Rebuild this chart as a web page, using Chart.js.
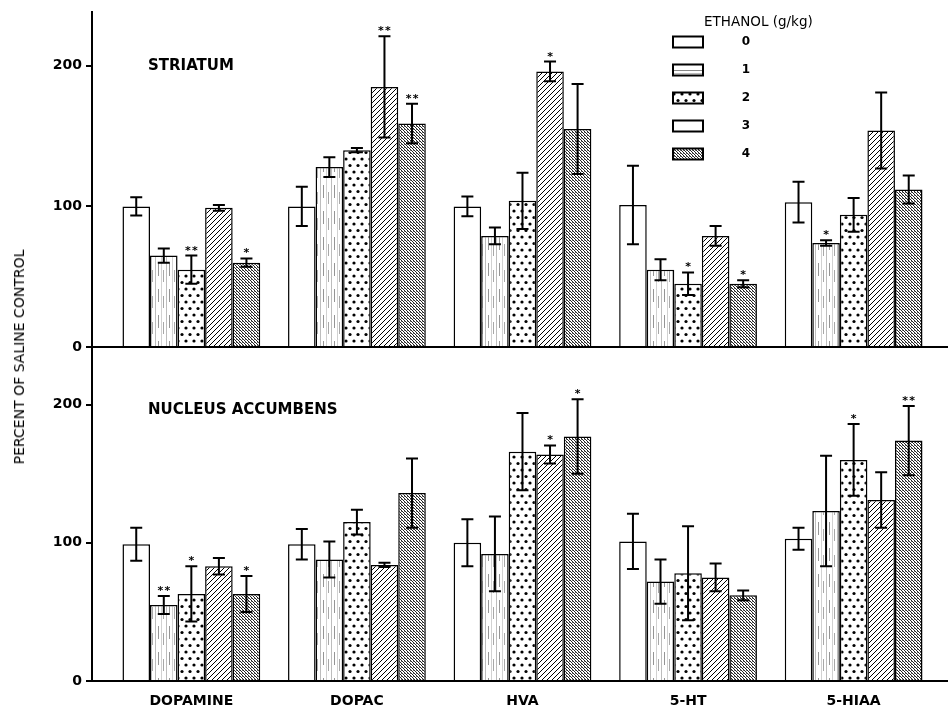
<!DOCTYPE html>
<html>
<head>
<meta charset="utf-8">
<script src="https://cdn.jsdelivr.net/npm/chart.js@4/dist/chart.umd.min.js"></script>
<style>
html, body { margin: 0; padding: 0; background: #fff; }
#wrap { position: relative; width: 948px; height: 713px; overflow: hidden; background: #fff; }
#c1 { position: absolute; left: 0; top: 0; }
#c2 { position: absolute; left: 0; top: 337px; }
#ytitle { position: absolute; left: 19px; top: 357px; transform: translate(-50%, -50%) rotate(-90deg);
  font: 14px "DejaVu Sans", sans-serif; color: #000; white-space: nowrap; }
</style>
</head>
<body>
<div id="wrap">
  <canvas id="c1" width="948" height="360"></canvas>
  <canvas id="c2" width="948" height="376"></canvas>
  <div id="ytitle">PERCENT OF SALINE CONTROL</div>
</div>
<script>
// ---------- DATA ----------
const categories = ['DOPAMINE', 'DOPAC', 'HVA', '5-HT', '5-HIAA'];
const doses = ['0', '1', '2', '3', '4'];
const legendTitle = 'ETHANOL (g/kg)';
const yTicks = [0, 100, 200];

// Striatum (mean % of saline control), one array per ethanol dose
const striatum0 = [100, 100, 100, 101, 103];
const striatum1 = [65, 128, 79, 55, 74];
const striatum2 = [55, 140, 104, 45, 94];
const striatum3 = [99, 185, 196, 79, 154];
const striatum4 = [60, 159, 155, 45, 112];
// Striatum error (SEM)
const striatumErr0 = [6.5, 14, 7, 28, 14.5];
const striatumErr1 = [5, 7, 6, 7.5, 2];
const striatumErr2 = [10, 1.5, 20, 8, 12];
const striatumErr3 = [2, 36, 7, 7, 27];
const striatumErr4 = [3, 14, 32, 2.5, 10];
// Striatum significance marks
const striatumSig0 = ['', '', '', '', ''];
const striatumSig1 = ['', '', '', '', '*'];
const striatumSig2 = ['**', '', '', '*', ''];
const striatumSig3 = ['', '**', '*', '', ''];
const striatumSig4 = ['*', '**', '', '*', ''];

// Nucleus accumbens
const accumbens0 = [99, 99, 100, 101, 103];
const accumbens1 = [55, 88, 92, 72, 123];
const accumbens2 = [63, 115, 166, 78, 160];
const accumbens3 = [83, 84, 164, 75, 131];
const accumbens4 = [63, 136, 177, 62, 174];
const accumbensErr0 = [12, 11, 17, 20, 8];
const accumbensErr1 = [6.5, 13, 27, 16, 40];
const accumbensErr2 = [20, 9, 28, 34, 26];
const accumbensErr3 = [6, 1.5, 6.5, 10, 20];
const accumbensErr4 = [13, 25, 27, 3.5, 25];
const accumbensSig0 = ['', '', '', '', ''];
const accumbensSig1 = ['**', '', '', '', ''];
const accumbensSig2 = ['*', '', '', '', '*'];
const accumbensSig3 = ['', '', '*', '', ''];
const accumbensSig4 = ['*', '', '*', '', '**'];

const panels = [
  { title: 'STRIATUM', yMax: 238,
    means: [striatum0, striatum1, striatum2, striatum3, striatum4],
    errs: [striatumErr0, striatumErr1, striatumErr2, striatumErr3, striatumErr4],
    sigs: [striatumSig0, striatumSig1, striatumSig2, striatumSig3, striatumSig4] },
  { title: 'NUCLEUS ACCUMBENS', yMax: 240,
    means: [accumbens0, accumbens1, accumbens2, accumbens3, accumbens4],
    errs: [accumbensErr0, accumbensErr1, accumbensErr2, accumbensErr3, accumbensErr4],
    sigs: [accumbensSig0, accumbensSig1, accumbensSig2, accumbensSig3, accumbensSig4] }
];

// ---------- PATTERNS ----------
function makePatterns(ctx) {
  function tile(w, h, draw) {
    const c = document.createElement('canvas');
    c.width = w; c.height = h;
    const g = c.getContext('2d');
    g.fillStyle = '#fff'; g.fillRect(0, 0, w, h);
    draw(g);
    return ctx.createPattern(c, 'repeat');
  }
  const p0 = '#ffffff';
  const p1 = tile(11, 26, g => {
    g.fillStyle = '#bdbdbd'; g.fillRect(1, 0, 1, 26);
    g.fillStyle = '#959595'; g.fillRect(4, 3, 1, 13);
    g.fillStyle = '#d2d2d2'; g.fillRect(7, 0, 1, 26);
    g.fillStyle = '#a8a8a8'; g.fillRect(9, 10, 1, 12);
  });
  const p2 = tile(8, 13, g => {
    g.fillStyle = '#000';
    g.beginPath(); g.arc(2, 3, 1.6, 0, Math.PI * 2); g.fill();
    g.beginPath(); g.arc(6, 9.5, 1.6, 0, Math.PI * 2); g.fill();
  });
  const p3 = tile(5, 5, g => {
    g.strokeStyle = '#000'; g.lineWidth = 1.0;
    g.beginPath();
    for (let k = -1; k <= 1; k++) { g.moveTo(k * 5, 5); g.lineTo(k * 5 + 5, 0); }
    g.stroke();
  });
  const p4 = tile(3, 3, g => {
    g.fillStyle = '#222';
    g.fillRect(0, 0, 1, 1); g.fillRect(1, 1, 1, 1); g.fillRect(2, 2, 1, 1);
    g.fillStyle = '#777';
    g.fillRect(2, 0, 1, 1);
  });
  const p1legend = tile(6, 11, g => {
    g.fillStyle = '#888'; g.fillRect(0, 4, 6, 1);
    g.fillStyle = '#bbb'; g.fillRect(0, 7, 6, 1);
  });
  return { bars: [p0, p1, p2, p3, p4], legend: [p0, p1legend, p2, '#ffffff', p4] };
}

// ---------- PLUGINS ----------
function extrasPlugin(panel, withLegend, pats) {
  return {
    id: 'extras',
    afterDatasetsDraw(chart) {
      const ctx = chart.ctx;
      const ys = chart.scales.y;
      ctx.save();
      chart.data.datasets.forEach((ds, di) => {
        const meta = chart.getDatasetMeta(di);
        meta.data.forEach((bar, i) => {
          const v = panel.means[di][i];
          const e = panel.errs[di][i];
          const x = bar.x;
          const yt = ys.getPixelForValue(v + e);
          const yb = ys.getPixelForValue(v - e);
          ctx.strokeStyle = '#000';
          ctx.lineWidth = 2;
          ctx.beginPath();
          ctx.moveTo(x, yt); ctx.lineTo(x, yb);
          ctx.moveTo(x - 6, yt); ctx.lineTo(x + 6, yt);
          ctx.moveTo(x - 6, yb); ctx.lineTo(x + 6, yb);
          ctx.stroke();
          const s = panel.sigs[di][i];
          if (s) {
            ctx.fillStyle = '#000';
            ctx.font = 'bold 11px "DejaVu Sans"';
            ctx.textAlign = 'center';
            ctx.textBaseline = 'alphabetic';
            const n = s.length;
            for (let k = 0; k < n; k++) {
              const dx = (k - (n - 1) / 2) * 7;
              ctx.fillText('*', x + dx, yt - 2);
            }
          }
        });
      });
      // panel title
      const area = chart.chartArea;
      ctx.fillStyle = '#000';
      ctx.font = 'bold 15px "DejaVu Sans"';
      ctx.textAlign = 'left';
      ctx.textBaseline = 'middle';
      const ty = withLegend ? area.top + 54 : area.top + 61;
      ctx.fillText(panel.title, area.left + 56, ty);

      if (withLegend) {
        ctx.font = '13.5px "DejaVu Sans"';
        ctx.textAlign = 'left';
        ctx.textBaseline = 'middle';
        ctx.fillText(legendTitle, 704, 22);
        doses.forEach((d, k) => {
          const cy = 42 + k * 28;
          ctx.fillStyle = pats.legend[k];
          ctx.fillRect(673, cy - 5.5, 30, 11);
          ctx.strokeStyle = '#000'; ctx.lineWidth = 2;
          ctx.strokeRect(673, cy - 5.5, 30, 11);
          ctx.fillStyle = '#000';
          ctx.font = 'bold 12px "DejaVu Sans"';
          ctx.textAlign = 'center';
          ctx.fillText(d, 746, cy);
          ctx.textAlign = 'left';
        });
      }
      ctx.restore();
    }
  };
}

// ---------- CHARTS ----------
function buildChart(canvasId, panel, showX, withLegend, padTop, xHeight) {
  const canvas = document.getElementById(canvasId);
  const ctx = canvas.getContext('2d');
  const pats = makePatterns(ctx);
  const datasets = doses.map((d, di) => ({
    label: d,
    data: categories.map((c, i) => ({ x: i, y: panel.means[di][i] })),
    backgroundColor: pats.bars[di],
    borderColor: '#000',
    borderWidth: 1.5,
    categoryPercentage: 0.832,
    barPercentage: 1.0
  }));
  return new Chart(ctx, {
    type: 'bar',
    data: { datasets },
    options: {
      responsive: false,
      animation: false,
      layout: { padding: { top: padTop, right: 0, bottom: 0, left: 0 } },
      plugins: { legend: { display: false }, tooltip: { enabled: false }, title: { display: false } },
      scales: {
        x: {
          type: 'linear',
          min: -0.6, max: 4.57,
          offset: false,
          grid: { display: false },
          border: { display: true, color: '#000', width: 2 },
          afterBuildTicks: axis => { axis.ticks = categories.map((c, i) => ({ value: i })); },
          afterFit: s => { s.height = xHeight; },
          ticks: {
            display: showX,
            autoSkip: false, maxRotation: 0,
            padding: 4,
            color: '#000',
            font: { family: '"DejaVu Sans"', size: 14, weight: 'bold' },
            callback: v => categories[v] !== undefined ? categories[v] : ''
          }
        },
        y: {
          min: 0, max: panel.yMax,
          afterBuildTicks: axis => { axis.ticks = yTicks.map(v => ({ value: v })); },
          afterFit: s => { s.width = 92; },
          grid: { display: true, drawOnChartArea: false, drawTicks: true, tickLength: 6, color: '#000', lineWidth: 2 },
          border: { display: true, color: '#000', width: 2 },
          ticks: {
            padding: 4,
            color: '#000',
            font: { family: '"DejaVu Sans"', size: 14, weight: 'bold' }
          }
        }
      }
    },
    plugins: [extrasPlugin(panel, withLegend, pats)]
  });
}

buildChart('c1', panels[0], false, true, 11, 13);
buildChart('c2', panels[1], true, false, 10, 32);
</script>
</body>
</html>
